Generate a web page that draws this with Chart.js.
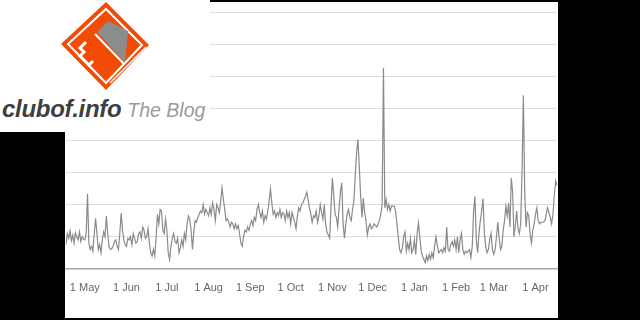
<!DOCTYPE html>
<html>
<head>
<meta charset="utf-8">
<script src="https://cdn.jsdelivr.net/npm/chart.js@4.4.0/dist/chart.umd.min.js"></script>
<style>
  html, body { margin: 0; padding: 0; background: #000; }
  #wrap { position: relative; width: 640px; height: 320px; overflow: hidden; }
  #panel { position: absolute; left: 65px; top: 2px; width: 493px; height: 316px; background: #fff; }
  #logoBox { position: absolute; left: 0; top: 0; width: 210px; height: 132px; background: #fff; }
  #logo { position: absolute; left: 0; top: 0; }
  #brand { position: absolute; left: 2px; top: 95px; white-space: nowrap; font-family: "Liberation Sans", Arial, sans-serif; }
  #brand .name { font-size: 24px; font-weight: bold; font-style: italic; color: #3f3f3f; letter-spacing: -0.3px; }
  #brand .blog { font-size: 19.5px; font-style: italic; color: #9a9a9a; margin-left: 6px; }
  #chartBox { position: absolute; left: 0; top: 0; width: 640px; height: 320px; }
</style>
</head>
<body>
<div id="wrap">
  <div id="panel"></div>
  <div id="chartBox"><canvas id="visits"></canvas></div>
  <div id="logoBox">
    <svg id="logo" width="210" height="95" viewBox="0 0 210 95">
      <polygon points="106,2 149,45 106,90 61,44" fill="#f24b06"/>
      <polygon points="106,9 142,45 106,83 68,44" fill="none" stroke="#fff" stroke-width="2"/>
      <polygon points="97,32 108,21 128,31 125,63" fill="#8c8c8c"/>
      <polyline points="95,34 124,64" fill="none" stroke="#fff" stroke-width="2"/>
      <polyline points="86,42 80,48 84,52 80,56 89,65 93,61" fill="none" stroke="#fff" stroke-width="3"/>
      <polyline points="110,83 146,47" fill="none" stroke="#fff" stroke-width="1.5"/>
    </svg>
    <div id="brand"><span class="name">clubof.info</span><span class="blog">The Blog</span></div>
  </div>
</div>
<script>
// daily values, 17 Apr to 17 Apr
const apr1 = [76, 110, 95, 118, 88, 105, 80, 112, 100, 90, 115, 85, 100, 92];
const may = [90, 110, 234, 80, 60, 70, 55, 110, 157, 110, 60, 75, 50, 90, 115, 100,
  164, 110, 70, 60, 62, 70, 85, 90, 70, 60, 110, 174, 120, 90, 75];
const jun = [70, 95, 90, 100, 75, 110, 95, 80, 85, 110, 115, 95, 130, 120, 95,
  100, 125, 80, 50, 40, 60, 40, 100, 170, 140, 185, 180, 120, 110, 155];
const jul = [120, 50, 29, 70, 95, 110, 85, 80, 95, 50, 65, 90, 70, 110, 90, 140,
  165, 155, 120, 60, 115, 150, 145, 160, 170, 180, 175, 200, 170, 185, 175];
const aug = [165, 190, 170, 205, 185, 150, 200, 190, 175, 210, 252, 215, 185, 150, 155, 145,
  130, 145, 140, 125, 140, 125, 135, 110, 80, 70, 100, 120, 115, 130, 120];
const sep = [140, 150, 135, 160, 150, 185, 200, 175, 160, 180, 145, 165, 155, 180, 210,
  249, 205, 170, 180, 160, 175, 165, 185, 160, 175, 170, 150, 180, 160, 175];
const oct = [140, 175, 160, 145, 125, 165, 190, 180, 200, 205, 215, 225, 239, 215, 190, 170,
  145, 165, 160, 180, 145, 165, 200, 175, 155, 200, 140, 115, 105, 95, 190];
const nov = [283, 230, 170, 160, 130, 190, 240, 268, 140, 95, 140, 170, 185, 160, 150,
  185, 210, 290, 360, 403, 320, 230, 160, 220, 175, 150, 105, 130, 140, 125];
const dec = [130, 140, 135, 130, 140, 150, 170, 200, 626, 190, 215, 185, 200, 180, 195, 195,
  195, 180, 140, 100, 60, 50, 65, 100, 115, 55, 80, 60, 95, 50, 60];
const jan = [90, 45, 110, 143, 100, 55, 40, 30, 19, 40, 25, 45, 30, 50, 35, 70,
  100, 75, 50, 55, 60, 50, 65, 55, 130, 60, 55, 75, 85, 70, 90];
const feb = [60, 100, 50, 90, 110, 60, 45, 55, 50, 55, 60, 35, 70, 180,
  226, 90, 50, 110, 150, 180, 219, 110, 70, 50, 60, 90, 110, 60];
const mar = [45, 60, 100, 145, 95, 60, 70, 120, 150, 195, 165, 205, 130, 283, 240, 100,
  135, 180, 125, 110, 140, 300, 541, 240, 130, 175, 165, 110, 80, 120, 140];
const apr2 = [170, 190, 150, 140, 145, 145, 145, 150, 170, 190, 175, 160, 140, 170, 230, 273, 260];

const monthNames = ['Jan', 'Feb', 'Mar', 'Apr', 'May', 'Jun', 'Jul', 'Aug', 'Sep', 'Oct', 'Nov', 'Dec'];
const visits = [].concat(apr1, may, jun, jul, aug, sep, oct, nov, dec, jan, feb, mar, apr2);

// one label per day; only the 1st of each month gets shown
const dayLabels = [];
const d = new Date(2012, 3, 17);
for (let i = 0; i < visits.length; i++) {
  dayLabels.push(d.getDate() === 1 ? '1 ' + monthNames[d.getMonth()] : '');
  d.setDate(d.getDate() + 1);
}

const ctx = document.getElementById('visits');
new Chart(ctx, {
  type: 'line',
  data: {
    labels: dayLabels,
    datasets: [{
      data: visits,
      borderColor: '#8a8a8a',
      borderWidth: 1.2,
      pointRadius: 0,
      tension: 0,
      fill: false
    }]
  },
  options: {
    responsive: true,
    maintainAspectRatio: false,
    animation: false,
    layout: { padding: { left: 66, right: 83, top: 12, bottom: 12 } },
    plugins: { legend: { display: false }, tooltip: { enabled: false } },
    scales: {
      x: {
        grid: { display: false, drawTicks: false },
        border: { color: '#a8a8a8', width: 1.5 },
        ticks: {
          autoSkip: false,
          maxRotation: 0,
          minRotation: 0,
          padding: 13,
          color: '#666',
          font: { family: '"Liberation Sans Narrow", "Liberation Sans", Arial', size: 11 },
          callback: function (val, i) { return dayLabels[i]; }
        }
      },
      y: {
        min: 0,
        max: 800,
        ticks: { display: false, stepSize: 100 },
        border: { display: false },
        grid: {
          drawTicks: false,
          color: (c) => c.tick.value === 0 ? '#a8a8a8' : '#dcdcdc',
          lineWidth: 1
        }
      }
    }
  }
});
</script>
</body>
</html>
